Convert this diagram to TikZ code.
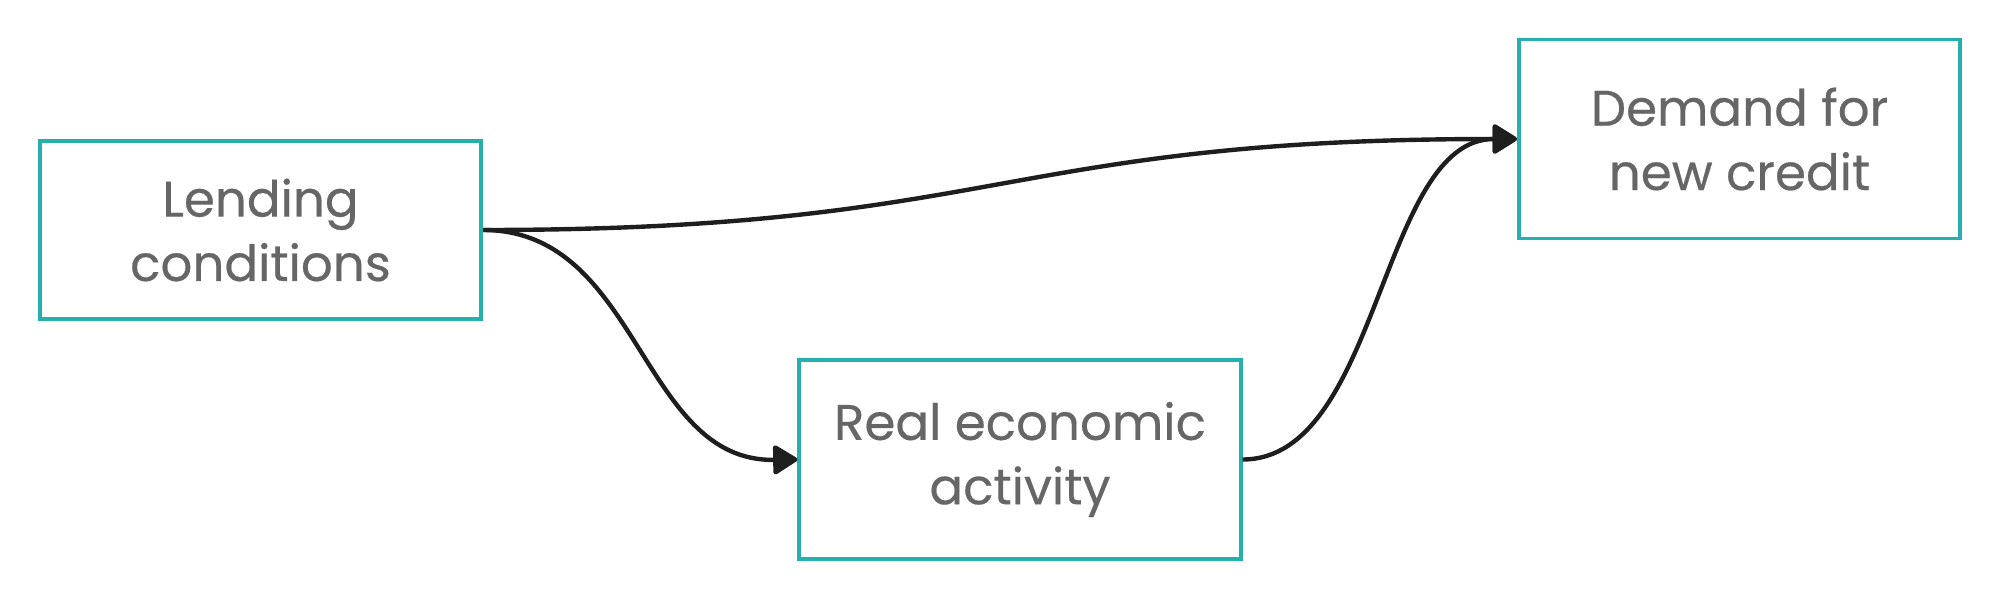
\documentclass[tikz,border=0pt]{standalone}
\usepackage{fontspec}
\setmainfont{Poppins}
\newfontfamily\boxfont{Poppins}[FakeBold=0.4]
\usetikzlibrary{arrows.meta}
\definecolor{teal}{HTML}{26B0AC}
\definecolor{txt}{HTML}{666666}
\definecolor{ink}{HTML}{1E1E1E}
\begin{document}
\begin{tikzpicture}[x=0.01cm,y=-0.01cm,
  box/.style={draw=teal,line width=1.1pt,fill=white,minimum width=4.41cm,text=txt,align=center,
    font=\boxfont\fontsize{14.2}{18.3}\selectfont,inner sep=0pt},
  arr/.style={draw=ink,line width=1.25pt,-{Triangle[length=7.5pt,width=9pt,round]}}]
\useasboundingbox (0,0) rectangle (2000,600);
\node[box,minimum height=1.78cm] (lend) at (260.5,230) {Lending\\conditions};
\node[box,minimum height=1.99cm] (dem) at (1739.5,139) {Demand for\\new credit};
\node[box,minimum height=1.99cm] (real) at (1020,459.5) {Real economic\\activity};
\draw[arr] (lend.east) .. controls (1000,230) and (1000,139) .. (dem.west);
\draw[arr] (lend.east) .. controls (640,230) and (640,462) .. (real.west);
\draw[arr] (real.east) .. controls (1380,459.5) and (1380,139) .. (dem.west);
\end{tikzpicture}
\end{document}
